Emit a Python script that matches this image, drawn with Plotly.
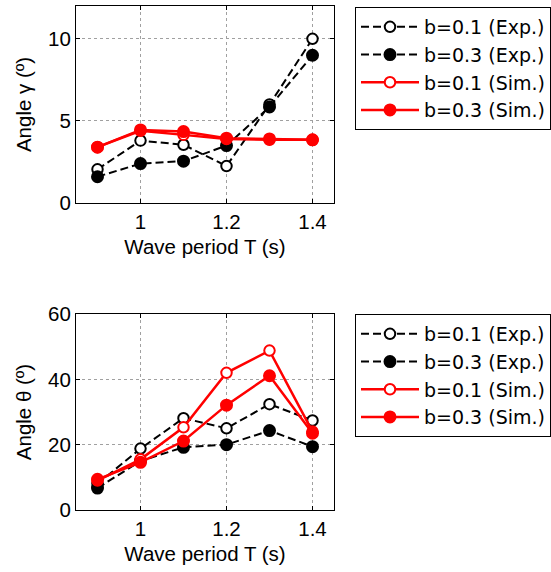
import plotly.graph_objects as go

T = [0.9, 1.0, 1.1, 1.2, 1.3, 1.4]

gamma_exp_b01 = [2.05, 3.8, 3.55, 2.25, 6.0, 10.0]
gamma_exp_b03 = [1.6, 2.4, 2.55, 3.5, 5.85, 9.0]
gamma_sim_b01 = [3.4, 4.4, 4.15, 3.9, 3.85, 3.85]
gamma_sim_b03 = [3.4, 4.45, 4.35, 3.95, 3.9, 3.85]

theta_exp_b01 = [8.0, 18.8, 28.1, 25.0, 32.4, 27.4]
theta_exp_b03 = [6.7, 15.0, 19.2, 20.0, 24.3, 19.4]
theta_sim_b01 = [9.0, 15.5, 25.3, 42.0, 48.8, 24.0]
theta_sim_b03 = [9.4, 14.6, 21.1, 32.1, 41.1, 23.5]

names = ["b=0.1 (Exp.)", "b=0.3 (Exp.)", "b=0.1 (Sim.)", "b=0.3 (Sim.)"]

FONT = "Liberation Sans, Arial, sans-serif"
LFONT = "DejaVu Sans, sans-serif"

def style(i):
    if i < 2:
        color = "black"
        line = dict(color="black", width=2, dash="8px,4px")
    else:
        color = "#ff0000"
        line = dict(color="#ff0000", width=2.5)
    filled = i % 2 == 1
    marker = dict(size=11 if filled else 10.5, symbol="circle",
                  color=color if filled else "white",
                  line=dict(color=color, width=2))
    return line, marker

fig = go.Figure()
top_series = [gamma_exp_b01, gamma_exp_b03, gamma_sim_b01, gamma_sim_b03]
bot_series = [theta_exp_b01, theta_exp_b03, theta_sim_b01, theta_sim_b03]
for i, ys in enumerate(top_series):
    line, marker = style(i)
    fig.add_trace(go.Scatter(x=T, y=ys, mode="lines+markers", name=names[i],
                             line=line, marker=marker, xaxis="x", yaxis="y",
                             legend="legend"))
for i, ys in enumerate(bot_series):
    line, marker = style(i)
    fig.add_trace(go.Scatter(x=T, y=ys, mode="lines+markers", name=names[i],
                             line=line, marker=marker, xaxis="x2", yaxis="y2",
                             legend="legend2"))

W, H = 551, 572
xd = [76 / W, 334 / W]
yd1 = [1 - 203 / H, 1 - 6 / H]
yd2 = [1 - 510 / H, 1 - 314 / H]

axis_common = dict(showline=True, linecolor="black", linewidth=1, mirror="ticks",
                   ticks="inside", ticklen=4, tickcolor="black", zeroline=False,
                   showgrid=True, gridcolor="#a0a0a0", gridwidth=1, griddash="dot",
                   automargin=False,
                   tickfont=dict(family=FONT, size=20.5, color="black"))

xaxis_common = dict(axis_common, range=[0.85, 1.45], tickvals=[1, 1.2, 1.4],
                    ticktext=["1", "1.2", "1.4"], domain=xd,
                    title=dict(text="Wave period T (s)", font=dict(family=FONT, size=20.5, color="black"),
                               standoff=8))

legend_common = dict(bordercolor="black", borderwidth=1, bgcolor="white",
                     font=dict(family=LFONT, size=19, color="black"),
                     xanchor="left", yanchor="top", itemwidth=58,
                     tracegroupgap=0)

fig.update_layout(
    width=W, height=H, margin=dict(l=0, r=0, t=0, b=0, autoexpand=False),
    paper_bgcolor="white", plot_bgcolor="white",
    xaxis=dict(xaxis_common, anchor="y"),
    yaxis=dict(axis_common, domain=yd1, range=[0, 12], tickvals=[0, 5, 10], anchor="x",
               title=dict(text="Angle γ (º)", font=dict(family=FONT, size=20.5, color="black"),
                          standoff=10)),
    xaxis2=dict(xaxis_common, anchor="y2"),
    yaxis2=dict(axis_common, domain=yd2, range=[0, 60], tickvals=[0, 20, 40, 60], anchor="x2",
                title=dict(text="Angle θ (º)", font=dict(family=FONT, size=20.5, color="black"),
                           standoff=10)),
    legend=dict(legend_common, x=355 / W, y=1 - 7 / H),
    legend2=dict(legend_common, x=355 / W, y=1 - 314 / H),
    showlegend=True,
)

fig.write_html("out.html")
